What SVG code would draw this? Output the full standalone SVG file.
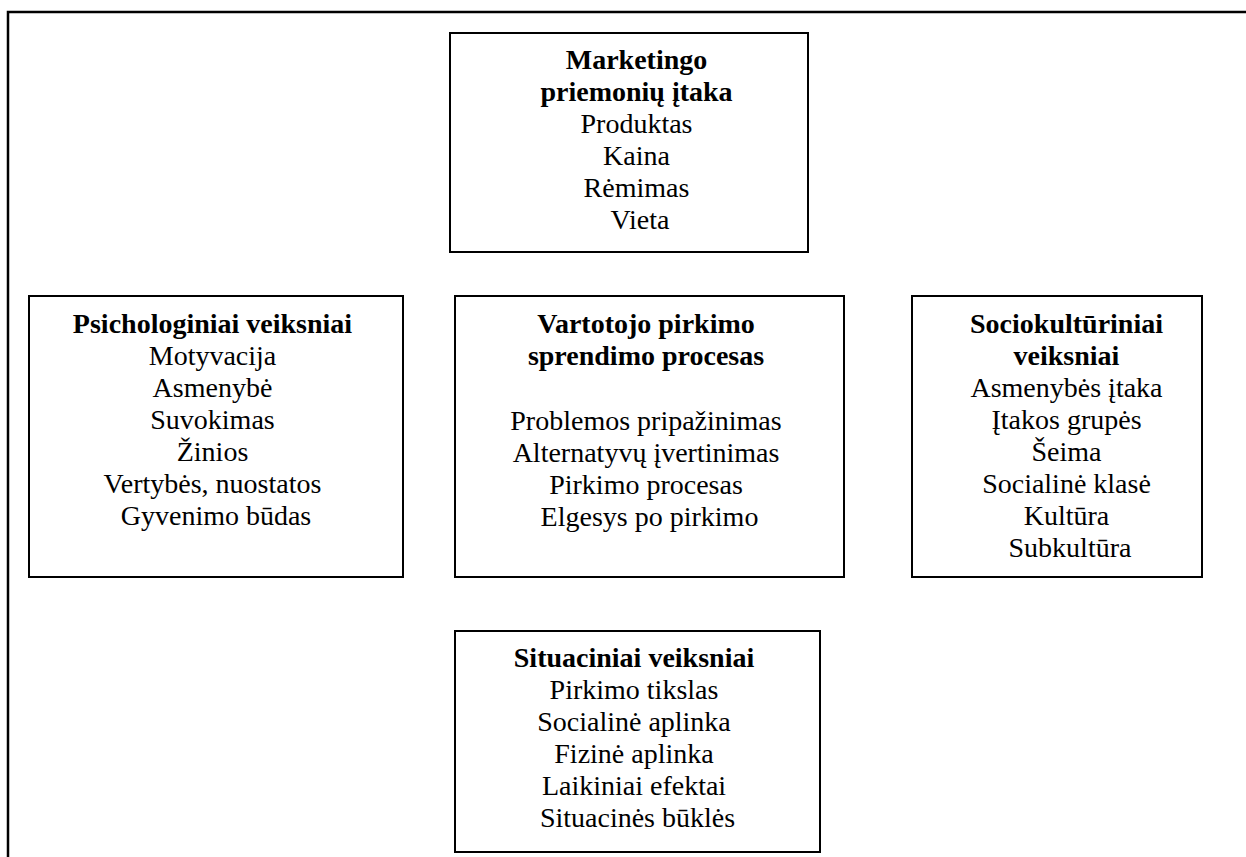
<svg xmlns="http://www.w3.org/2000/svg" width="1246" height="857" viewBox="0 0 1246 857">
<style>
.box{fill:#fff;stroke:#000;stroke-width:2}
.frame{fill:none;stroke:#000;stroke-width:2.5}
.t{font-family:"Liberation Serif","Times New Roman",serif;font-size:28px;fill:#000;text-anchor:middle}
.b{font-weight:bold}
</style>
<rect width="1246" height="857" fill="#fff"/>
<g id="connectors">
<path class="frame" d="M8,857 V12 H1246"/>
</g>
<g id="marketingo">
<rect class="box" x="450" y="33" width="358" height="219"/>
<text class="t">
<tspan class="b" x="640" y="69">Marketingo</tspan>
<tspan class="b" x="640" y="101">priemonių įtaka</tspan>
<tspan x="640" y="133">Produktas</tspan>
<tspan x="640" y="165">Kaina</tspan>
<tspan x="640" y="197">Rėmimas</tspan>
<tspan x="640" y="229">Vieta</tspan>
</text>
</g>
<g id="psichologiniai">
<rect class="box" x="29" y="296" width="374" height="281"/>
<text class="t">
<tspan class="b" x="216" y="333">Psichologiniai veiksniai</tspan>
<tspan x="216" y="365">Motyvacija</tspan>
<tspan x="216" y="397">Asmenybė</tspan>
<tspan x="216" y="429">Suvokimas</tspan>
<tspan x="216" y="461">Žinios</tspan>
<tspan x="216" y="493">Vertybės, nuostatos</tspan>
<tspan x="216" y="525">Gyvenimo būdas</tspan>
</text>
</g>
<g id="vartotojo">
<rect class="box" x="455" y="296" width="389" height="281"/>
<text class="t">
<tspan class="b" x="649.5" y="333">Vartotojo pirkimo</tspan>
<tspan class="b" x="649.5" y="365">sprendimo procesas</tspan>
<tspan x="649.5" y="430">Problemos pripažinimas</tspan>
<tspan x="649.5" y="462">Alternatyvų įvertinimas</tspan>
<tspan x="649.5" y="494">Pirkimo procesas</tspan>
<tspan x="649.5" y="526">Elgesys po pirkimo</tspan>
</text>
</g>
<g id="sociokulturiniai">
<rect class="box" x="912" y="296" width="290" height="281"/>
<text class="t">
<tspan class="b" x="1070" y="333">Sociokultūriniai</tspan>
<tspan class="b" x="1070" y="365">veiksniai</tspan>
<tspan x="1070" y="397">Asmenybės įtaka</tspan>
<tspan x="1070" y="429">Įtakos grupės</tspan>
<tspan x="1070" y="461">Šeima</tspan>
<tspan x="1070" y="493">Socialinė klasė</tspan>
<tspan x="1070" y="525">Kultūra</tspan>
<tspan x="1070" y="557">Subkultūra</tspan>
</text>
</g>
<g id="situaciniai">
<rect class="box" x="455" y="631" width="365" height="221"/>
<text class="t">
<tspan class="b" x="637.5" y="667">Situaciniai veiksniai</tspan>
<tspan x="637.5" y="699">Pirkimo tikslas</tspan>
<tspan x="637.5" y="731">Socialinė aplinka</tspan>
<tspan x="637.5" y="763">Fizinė aplinka</tspan>
<tspan x="637.5" y="795">Laikiniai efektai</tspan>
<tspan x="637.5" y="827">Situacinės būklės</tspan>
</text>
</g>
</svg>
